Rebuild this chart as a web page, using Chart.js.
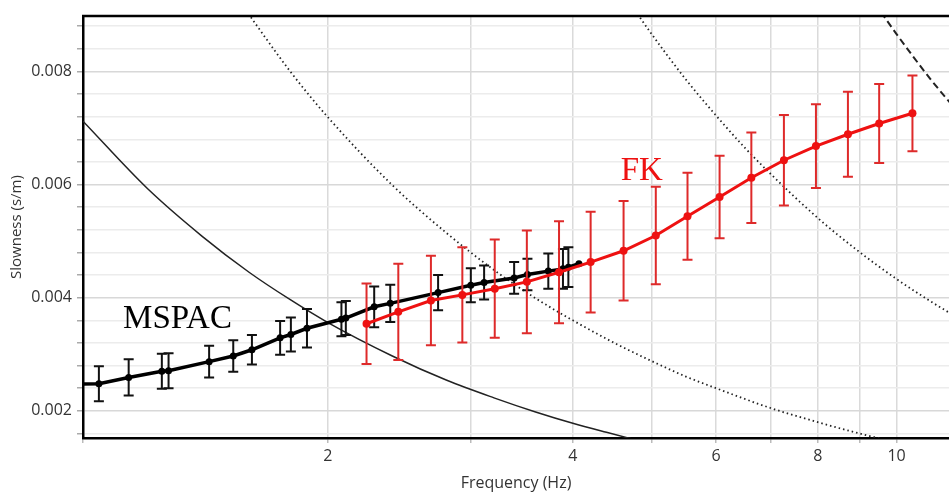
<!DOCTYPE html>
<html>
<head>
<meta charset="utf-8">
<script src="https://cdn.jsdelivr.net/npm/chart.js@4"></script>
<style>
  html, body { margin: 0; padding: 0; background: #fff; }
</style>
</head>
<body>
<canvas id="chart" width="949" height="494"></canvas>
<script>
// Dispersion curves: MSPAC (black) and FK (red), slowness vs frequency

const mspacFreq = [0.95, 1.046, 1.138, 1.25, 1.274, 1.429, 1.53, 1.613, 1.747, 1.801, 1.885, 2.078, 2.104, 2.28, 2.386, 2.732, 2.997, 3.112, 3.388, 3.518, 3.732, 3.89, 3.95, 4.07];
const mspacSlow = [0.00247, 0.00248, 0.00259, 0.0027, 0.00271, 0.00287, 0.00297, 0.00308, 0.00329, 0.00335, 0.00346, 0.00362, 0.00364, 0.00384, 0.0039, 0.00409, 0.00422, 0.00427, 0.00435, 0.00441, 0.00447, 0.00451, 0.00454, 0.0046];
const mspacErr  = [0, 0.00031, 0.00032, 0.00031, 0.00031, 0.00028, 0.00028, 0.00026, 0.0003, 0.0003, 0.00034, 0.0003, 0.0003, 0.00036, 0.00033, 0.00031, 0.0003, 0.0003, 0.00028, 0.00028, 0.00031, 0.00035, 0.00035, 0];

const fkFreq = [2.231, 2.441, 2.677, 2.926, 3.207, 3.512, 3.847, 4.207, 4.618, 5.059, 5.534, 6.06, 6.63, 7.27, 7.96, 8.714, 9.52, 10.46];
const fkSlow = [0.00354, 0.00375, 0.00395, 0.00405, 0.00416, 0.00428, 0.00445, 0.00463, 0.00483, 0.0051, 0.00544, 0.00578, 0.00612, 0.00643, 0.00668, 0.00689, 0.00708, 0.00726];
const fkErr  = [0.00071, 0.00085, 0.00079, 0.00084, 0.00087, 0.00091, 0.0009, 0.00089, 0.00088, 0.00086, 0.00077, 0.00073, 0.0008, 0.0008, 0.00074, 0.00075, 0.0007, 0.00067];

// array limit curves
const limitAFreq = [1.0, 1.2, 1.4, 1.6, 1.8, 2.0, 2.4, 2.8, 3.2, 3.6, 4.0, 4.4, 4.8];
const limitASlow = [0.00712, 0.00593, 0.00509, 0.00445, 0.00396, 0.00356, 0.00297, 0.00254, 0.00223, 0.00198, 0.00178, 0.00162, 0.00148];
const limitBFreq = [1.55, 1.8, 2.0, 2.4, 2.8, 3.2, 3.6, 4.0, 4.5, 5.0, 5.5, 6.0, 7.0, 8.0, 9.0, 9.8];
const limitBSlow = [0.00928, 0.00799, 0.00719, 0.00599, 0.00514, 0.00449, 0.00399, 0.0036, 0.0032, 0.00288, 0.00261, 0.0024, 0.00205, 0.0018, 0.0016, 0.00147];
const limitCFreq = [4.7, 5.0, 5.5, 6.0, 6.5, 7.0, 8.0, 9.0, 10.0, 11.0, 12.0];
const limitCSlow = [0.00921, 0.00866, 0.00787, 0.00722, 0.00666, 0.00619, 0.00541, 0.00481, 0.00433, 0.00394, 0.00361];
const limitDFreq = [9.4, 10.0, 11.0, 12.0];
const limitDSlow = [0.00921, 0.00866, 0.00787, 0.00722];

const xTicks = [1, 2, 3, 4, 5, 6, 7, 8, 9, 10];
const xLabels = [2, 4, 6, 8, 10];

const labels = [
  { text: 'MSPAC', x: 1.12, y: 0.00346, color: '#000' },
  { text: 'FK', x: 4.58, y: 0.00608, color: '#ee1111' }
];

const pts = (xs, ys) => xs.map((x, i) => ({ x, y: ys[i] }));
const isMajor = v => Math.round(v * 10000) % 20 === 0;

// error bars, drawn under each series
const errorBars = {
  id: 'errorBars',
  beforeDatasetDraw(chart, args) {
    const ds = chart.data.datasets[args.index];
    if (!ds.errors) return;
    const { ctx, chartArea, scales: { x, y } } = chart;
    ctx.save();
    ctx.beginPath();
    ctx.rect(chartArea.left, chartArea.top, chartArea.width, chartArea.height);
    ctx.clip();
    ctx.strokeStyle = ds.errorColor;
    ctx.lineWidth = 2;
    ds.data.forEach((p, i) => {
      const e = ds.errors[i];
      if (!e) return;
      const px = x.getPixelForValue(p.x);
      const top = y.getPixelForValue(p.y + e), bot = y.getPixelForValue(p.y - e);
      ctx.beginPath();
      ctx.moveTo(px, top); ctx.lineTo(px, bot);
      ctx.moveTo(px - 5, top); ctx.lineTo(px + 5, top);
      ctx.moveTo(px - 5, bot); ctx.lineTo(px + 5, bot);
      ctx.stroke();
    });
    ctx.restore();
  }
};

// top frame line and the two text labels
const frameAndText = {
  id: 'frameAndText',
  afterDatasetsDraw(chart) {
    const { ctx, chartArea, scales: { x, y } } = chart;
    ctx.save();
    ctx.strokeStyle = '#000';
    ctx.lineWidth = 2.5;
    ctx.beginPath();
    ctx.moveTo(chartArea.left - 1, chartArea.top);
    ctx.lineTo(chartArea.right, chartArea.top);
    ctx.stroke();
    ctx.font = '33px "Liberation Serif", serif';
    ctx.textAlign = 'left';
    ctx.textBaseline = 'alphabetic';
    labels.forEach(l => {
      ctx.fillStyle = l.color;
      ctx.fillText(l.text, x.getPixelForValue(l.x), y.getPixelForValue(l.y));
    });
    ctx.restore();
  }
};

const curve = (xs, ys, dash, width) => ({
  data: pts(xs, ys),
  borderColor: '#222',
  borderWidth: width,
  borderDash: dash,
  pointRadius: 0,
  cubicInterpolationMode: 'monotone',
  order: 5
});

new Chart(document.getElementById('chart'), {
  type: 'line',
  data: {
    datasets: [
      curve(limitAFreq, limitASlow, [], 1.5),
      curve(limitBFreq, limitBSlow, [1.5, 3], 1.8),
      curve(limitCFreq, limitCSlow, [1.5, 3], 1.8),
      curve(limitDFreq, limitDSlow, [7, 4], 2),
      {
        data: pts(mspacFreq, mspacSlow),
        errors: mspacErr,
        errorColor: '#111',
        borderColor: '#000',
        backgroundColor: '#000',
        borderWidth: 3.5,
        pointRadius: 3.5,
        pointBorderWidth: 0,
        order: 2
      },
      {
        data: pts(fkFreq, fkSlow),
        errors: fkErr,
        errorColor: '#de2a2a',
        borderColor: '#ee1111',
        backgroundColor: '#ee1111',
        borderWidth: 3,
        pointRadius: 4,
        pointBorderWidth: 0,
        order: 1
      }
    ]
  },
  options: {
    responsive: false,
    animation: false,
    layout: { autoPadding: false, padding: { top: 16, right: 0, left: 0, bottom: 0 } },
    plugins: { legend: { display: false }, tooltip: { enabled: false } },
    scales: {
      x: {
        type: 'logarithmic',
        min: 1,
        max: 11.6,
        afterBuildTicks: s => { s.ticks = xTicks.map(v => ({ value: v })); },
        afterFit: s => { s.height = 56; },
        ticks: {
          autoSkip: false,
          maxRotation: 0,
          padding: 4,
          color: '#333',
          font: { family: '"Open Sans"', size: 16 },
          callback: v => xLabels.includes(v) ? String(v) : ''
        },
        grid: { color: '#dadada', lineWidth: 1.5, tickLength: 5, tickColor: '#bbb' },
        border: { color: '#000', width: 2.5 },
        title: {
          display: true,
          text: 'Frequency (Hz)',
          color: '#333',
          font: { family: '"Open Sans"', size: 16 },
          padding: { top: 0, bottom: 1 }
        }
      },
      y: {
        min: 0.00152,
        max: 0.00898,
        afterFit: s => { s.width = 83; },
        ticks: {
          stepSize: 0.0004,
          includeBounds: false,
          padding: 5,
          color: '#333',
          font: { family: '"Open Sans"', size: 16 },
          callback: v => isMajor(v) ? v.toFixed(3) : ''
        },
        grid: {
          color: c => (c.tick && isMajor(c.tick.value)) ? '#d8d8d8' : '#ececec',
          lineWidth: 1.5,
          tickLength: 6,
          tickColor: '#aaa'
        },
        border: { color: '#000', width: 2.5 },
        title: {
          display: true,
          text: 'Slowness (s/m)',
          color: '#333',
          font: { family: '"Open Sans"', size: 15 },
          padding: { top: 8, bottom: 0 }
        }
      }
    }
  },
  plugins: [errorBars, frameAndText]
});
</script>
</body>
</html>
